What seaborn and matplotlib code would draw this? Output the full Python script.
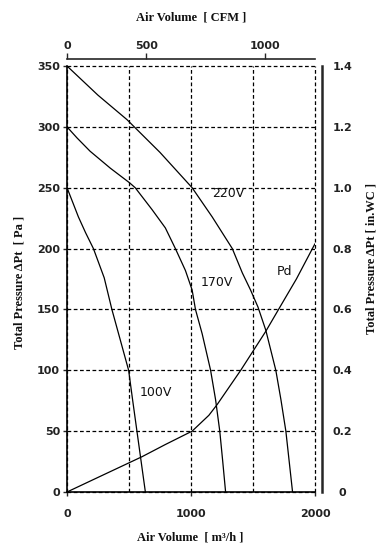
import matplotlib
matplotlib.use("Agg")
import matplotlib.pyplot as plt
import seaborn as sns
from matplotlib.ticker import FixedLocator, FixedFormatter

# ---- data (Air volume m3/h, Total pressure Pa) ----
q_220 = [0, 250, 483, 750, 1009, 1171, 1333, 1414, 1480, 1540, 1603, 1684, 1725, 1765, 1792, 1819]
p_220 = [350, 326, 306, 279, 250, 226, 200, 180, 166, 152, 133, 100, 76, 50, 25, 0]

q_170 = [0, 80, 186, 350, 505, 550, 686, 793, 874, 955, 1009, 1036, 1090, 1158, 1198, 1232, 1256, 1279]
p_170 = [300, 291, 280, 266, 254, 250, 232, 217, 200, 182, 166, 150, 130, 100, 76, 50, 25, 0]

q_100 = [0, 50, 92, 150, 213, 300, 362, 416, 497, 530, 564, 598, 632]
p_100 = [250, 237, 226, 213, 200, 176, 150, 130, 100, 75, 50, 25, 0]

q_pd = [0, 250, 605, 793, 1009, 1144, 1212, 1401, 1603, 1752, 1850, 2000]
p_pd = [0, 12, 29, 39, 50, 63, 72, 100, 132, 158, 175, 204]

curve_labels = ["220V", "170V", "100V", "Pd"]
label_q = [1304, 1206, 720, 1757]
label_p = [245, 172, 82, 181]

pa_ticks = [0, 50, 100, 150, 200, 250, 300, 350]
m3h_ticks = [0, 1000, 2000]
cfm_labels = ["0", "500", "1000"]
cfm_pos = [0, 640, 1595]          # where the CFM ticks sit on the m3/h scale
inwc_ticks = [0, 0.2, 0.4, 0.6, 0.8, 1.0, 1.2, 1.4]
inwc_labels = ["0", "0.2", "0.4", "0.6", "0.8", "1.0", "1.2", "1.4"]

sns.set_style("white")
plt.rcParams["font.family"] = ["DejaVu Sans"]

W, H = 388, 556
fig = plt.figure(figsize=(W / 100, H / 100), dpi=100)
ax = fig.add_axes([67 / W, 1 - 492 / H, 248 / W, 426 / H])

for q, p in [(q_220, p_220), (q_170, p_170), (q_100, p_100), (q_pd, p_pd)]:
    sns.lineplot(x=q, y=p, ax=ax, color="black", lw=0.9, sort=False, estimator=None)

for t, x, y in zip(curve_labels, label_q, label_p):
    ax.text(x, y, t, ha="center", va="center", fontsize=9, color="#111111")

ax.set_xlim(0, 2000)
ax.set_ylim(0, 350)

# grid
ax.set_xticks(m3h_ticks)
ax.xaxis.set_minor_locator(FixedLocator([500, 1500]))
ax.set_yticks(pa_ticks)
dash = (0, (3, 2))
ax.grid(True, which="both", axis="x", color="black", lw=0.9, ls=dash)
ax.grid(True, which="major", axis="y", color="black", lw=0.9, ls=dash)
ax.set_axisbelow(True)

for s in ["top", "right"]:
    ax.spines[s].set_visible(False)
for s in ["left", "bottom"]:
    ax.spines[s].set_color("black")
    ax.spines[s].set_linewidth(1.2)

ax.tick_params(axis="x", which="major", direction="out", length=3, width=1, pad=9,
               bottom=True, labelsize=8, labelcolor="#222222")
ax.tick_params(axis="x", which="minor", length=0)
ax.tick_params(axis="y", direction="out", length=3, width=1, pad=2, left=True,
               labelsize=8, labelcolor="#222222")
for lab in ax.get_xticklabels() + ax.get_yticklabels():
    lab.set_fontweight("bold")

# top axis (CFM)
top = ax.secondary_xaxis("top")
top.xaxis.set_major_locator(FixedLocator(cfm_pos))
top.xaxis.set_major_formatter(FixedFormatter(cfm_labels))
top.spines["top"].set_position(("outward", 5))
top.spines["top"].set_linewidth(1.2)
top.tick_params(direction="out", length=4, width=1, pad=2, labelsize=8,
                labelcolor="#222222")
for lab in top.get_xticklabels():
    lab.set_fontweight("bold")

# right axis (in.WC)
right = ax.secondary_yaxis("right", functions=(lambda p: p / 250.0, lambda w: w * 250.0))
right.yaxis.set_major_locator(FixedLocator(inwc_ticks))
right.yaxis.set_major_formatter(FixedFormatter(inwc_labels))
right.yaxis.set_minor_locator(FixedLocator([0, 1.4]))
right.spines["right"].set_position(("outward", 5))
right.spines["right"].set_linewidth(1.8)
right.tick_params(which="major", length=0, pad=15, labelsize=8, labelcolor="#222222")
right.tick_params(which="minor", direction="out", length=4, width=1.8)
for lab in right.get_yticklabels():
    lab.set_fontweight("bold")
    lab.set_horizontalalignment("center")

fig.canvas.draw()
for gl in ax.get_xgridlines() + ax.get_ygridlines():
    gl.set_clip_on(False)

label_font = dict(family=["Liberation Serif", "DejaVu Serif"], fontsize=9,
                  fontweight="bold", color="#111111")
fig.text(191 / W, 1 - 17 / H, "Air Volume  [ CFM ]", ha="center", va="center", **label_font)
fig.text(190 / W, 1 - 537 / H, "Air Volume  [ m³/h ]", ha="center", va="center", **label_font)
fig.text(20 / W, 1 - 282 / H, "Total Pressure ΔPt  [ Pa ]", ha="center", va="center",
         rotation=90, **label_font)
fig.text(372 / W, 1 - 258 / H, "Total Pressure ΔPt [ in.WC ]", ha="center", va="center",
         rotation=90, **label_font)

fig.savefig("out.png", dpi=100)
